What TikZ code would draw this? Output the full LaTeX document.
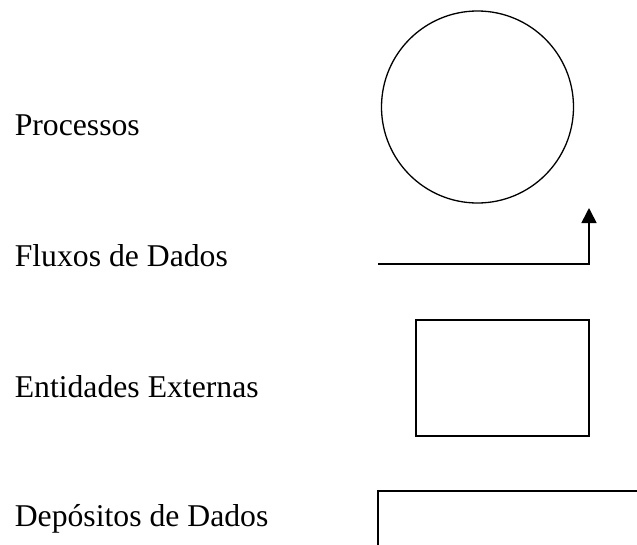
\documentclass[tikz,border=0pt]{standalone}
\usepackage{fontspec}
\setmainfont{Liberation Serif}
\usetikzlibrary{arrows.meta}

\begin{document}
\begin{tikzpicture}[x=1pt,y=-1pt,line width=1.6pt,
    lbl/.style={anchor=base west,inner sep=0pt,font=\fontsize{31.7}{38}\selectfont}]
        \useasboundingbox (0,0) rectangle (637,544);
        % labels
        \foreach \y/\name/\txt in {135/lproc/Processos, 266/lflux/Fluxos de Dados,
                                   397/lext/Entidades Externas, 526/ldep/Depósitos de Dados} {
            \node[lbl] (\name) at (14,\y) {\txt};
        }
        % symbols
        \node[draw,circle,line width=1.3pt,minimum size=192pt,inner sep=0pt] (proc) at (477.5,107) {};
        \coordinate (fa) at (378,264);
        \coordinate (fb) at (589,264);
        \coordinate (fc) at (589,208);
        \draw[-{Triangle[length=15pt,width=15pt]}] (fa) -- (fb) -- (fc);
        \node[draw,minimum width=173pt,minimum height=116pt,inner sep=0pt] (ext) at (502.5,378) {};
        \coordinate (da) at (378,546);
        \coordinate (db) at (378,491);
        \coordinate (dc) at (639,491);
        \draw (da) -- (db) -- (dc);
    \end{tikzpicture}
\end{document}
